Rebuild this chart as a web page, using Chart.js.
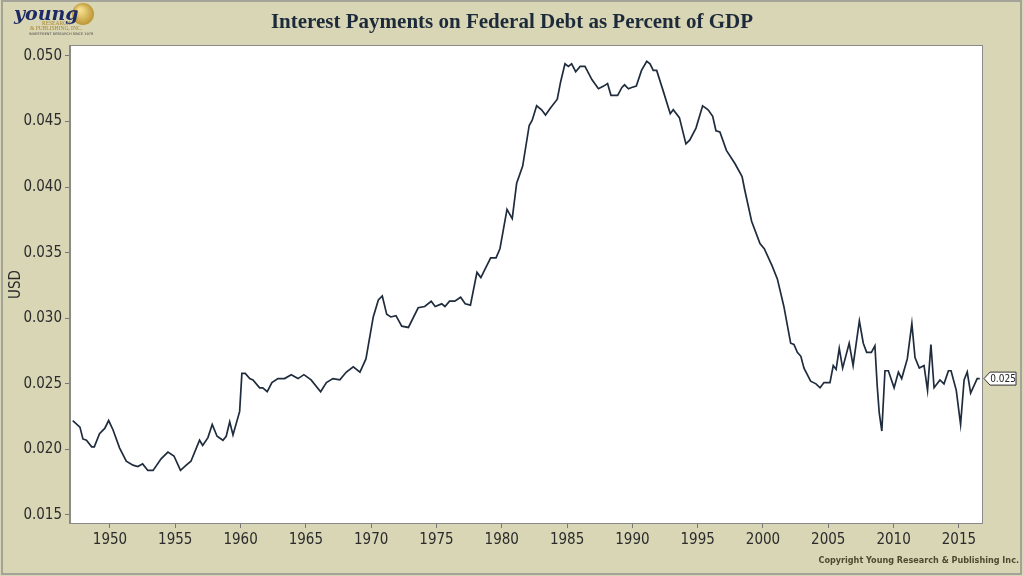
<!DOCTYPE html>
<html>
<head>
<meta charset="utf-8">
<script src="https://cdn.jsdelivr.net/npm/chart.js@4"></script>
<style>
  html, body { margin: 0; padding: 0; background: #fff; }
</style>
</head>
<body>
<canvas id="myChart" width="1024" height="576"></canvas>
<script>
// interest payments on federal debt as a share of GDP
const years = [
  1947.15, 1947.7, 1947.93, 1948.2, 1948.6, 1948.8, 1949.2, 1949.6, 1949.9, 1950.23,
  1950.74, 1951.25, 1951.76, 1952.14, 1952.5, 1952.9, 1953.3, 1953.93, 1954.44, 1954.9,
  1955.4, 1955.84, 1956.2, 1956.86, 1957.1, 1957.5, 1957.83, 1958.2, 1958.65, 1958.9,
  1959.17, 1959.42, 1959.93, 1960.1, 1960.36, 1960.7, 1960.95, 1961.46, 1961.7, 1962.04,
  1962.4, 1962.86, 1963.37, 1963.88, 1964.4, 1964.85, 1965.4, 1966.13, 1966.57, 1967.07,
  1967.6, 1968.1, 1968.63, 1969.14, 1969.6, 1970.16, 1970.55, 1970.85, 1971.19, 1971.5,
  1971.9, 1972.34, 1972.85, 1973.6, 1974.1, 1974.6, 1974.9, 1975.4, 1975.65, 1976.0,
  1976.4, 1976.85, 1977.2, 1977.6, 1978.1, 1978.4, 1978.7, 1979.15, 1979.56, 1979.86,
  1980.4, 1980.8, 1981.14, 1981.6, 1982.1, 1982.33, 1982.67, 1983.05, 1983.35, 1983.7,
  1984.25, 1984.5, 1984.84, 1985.1, 1985.35, 1985.66, 1986.0, 1986.37, 1986.9, 1987.4,
  1987.8, 1988.1, 1988.36, 1988.87, 1989.2, 1989.4, 1989.7, 1989.94, 1990.3, 1990.7,
  1991.1, 1991.35, 1991.6, 1991.86, 1992.37, 1992.9, 1993.13, 1993.6, 1994.1, 1994.4,
  1994.87, 1995.38, 1995.8, 1996.15, 1996.4, 1996.7, 1997.2, 1997.85, 1998.4, 1998.6,
  1999.13, 1999.77, 2000.1, 2000.7, 2001.1, 2001.6, 2002.12, 2002.37, 2002.63, 2002.9,
  2003.14, 2003.65, 2004.06, 2004.37, 2004.67, 2005.13, 2005.38, 2005.6, 2005.84, 2006.1,
  2006.6, 2006.9, 2007.38, 2007.68, 2007.94, 2008.3, 2008.57, 2008.75, 2008.9, 2009.1,
  2009.34, 2009.6, 2010.04, 2010.37, 2010.62, 2011.05, 2011.4, 2011.64, 2011.97, 2012.33,
  2012.6, 2012.86, 2013.1, 2013.55, 2013.86, 2014.2, 2014.4, 2014.8, 2015.13, 2015.4,
  2015.64, 2015.9, 2016.4, 2016.6
];
const interest = [
  0.0222, 0.0217, 0.0208, 0.0207, 0.0202, 0.0202, 0.0212, 0.0216, 0.0222, 0.0215,
  0.0201, 0.0191, 0.0188, 0.0187, 0.0189, 0.0184, 0.0184, 0.0193, 0.0198, 0.0195,
  0.0184, 0.0188, 0.0191, 0.0207, 0.0203, 0.0209, 0.0219, 0.0210, 0.0207, 0.0210,
  0.0221, 0.0211, 0.0229, 0.0258, 0.0258, 0.0254, 0.0253, 0.0247, 0.0247, 0.0244,
  0.0251, 0.0254, 0.0254, 0.0257, 0.0254, 0.0257, 0.0253, 0.0244, 0.0251, 0.0254,
  0.0253, 0.0259, 0.0263, 0.0259, 0.0269, 0.0301, 0.0314, 0.0317, 0.0303, 0.0301,
  0.0302, 0.0294, 0.0293, 0.0308, 0.0309, 0.0313, 0.0309, 0.0311, 0.0309, 0.0313,
  0.0313, 0.0316, 0.0311, 0.0310, 0.0335, 0.0331, 0.0337, 0.0346, 0.0346, 0.0353,
  0.0383, 0.0376, 0.0403, 0.0416, 0.0447, 0.0451, 0.0462, 0.0459, 0.0455, 0.0460,
  0.0467, 0.0480, 0.0494, 0.0492, 0.0494, 0.0488, 0.0492, 0.0492, 0.0482, 0.0475,
  0.0477, 0.0479, 0.0470, 0.0470, 0.0476, 0.0478, 0.0475, 0.0476, 0.0477, 0.0489,
  0.0496, 0.0494, 0.0489, 0.0489, 0.0473, 0.0456, 0.0459, 0.0453, 0.0433, 0.0436,
  0.0445, 0.0462, 0.0459, 0.0454, 0.0443, 0.0442, 0.0428, 0.0418, 0.0408, 0.0398,
  0.0374, 0.0357, 0.0353, 0.0340, 0.0330, 0.0309, 0.0281, 0.0280, 0.0274, 0.0271,
  0.0262, 0.0252, 0.0250, 0.0247, 0.0251, 0.0251, 0.0264, 0.0261, 0.0277, 0.0262,
  0.0281, 0.0264, 0.0298, 0.0281, 0.0274, 0.0274, 0.0279, 0.0248, 0.0228, 0.0214,
  0.0260, 0.0260, 0.0247, 0.0259, 0.0254, 0.0269, 0.0296, 0.0270, 0.0262, 0.0264,
  0.0245, 0.0280, 0.0247, 0.0253, 0.0250, 0.0260, 0.0260, 0.0245, 0.0219, 0.0253,
  0.0259, 0.0243, 0.0254, 0.0254
];
const xTicks = [1950, 1955, 1960, 1965, 1970, 1975, 1980, 1985, 1990, 1995, 2000, 2005, 2010, 2015];
const yTicks = [0.015, 0.020, 0.025, 0.030, 0.035, 0.040, 0.045, 0.050];

const titleText = "Interest Payments on Federal Debt as Percent of GDP";
const copyText = "Copyright Young Research & Publishing Inc.";

const OLIVE = "#d9d6b6";
const NAVY = "#1f2c3d";
const TICKFONT = '"DejaVu Sans Condensed", "Liberation Sans", sans-serif';

// paint the olive page and the white plot box
const backdrop = {
  id: "backdrop",
  beforeDraw(chart) {
    const ctx = chart.ctx;
    const a = chart.chartArea;
    ctx.save();
    ctx.fillStyle = OLIVE;
    ctx.fillRect(0, 0, chart.width, chart.height);
    ctx.fillStyle = "#ffffff";
    ctx.fillRect(a.left, a.top, a.right - a.left, a.bottom - a.top);
    ctx.restore();
  }
};

// title, logo, frame, copyright and the last value flag
const extras = {
  id: "extras",
  afterDraw(chart) {
    const ctx = chart.ctx;
    const a = chart.chartArea;
    ctx.save();

    // plot border
    ctx.strokeStyle = "#8a8a8a";
    ctx.lineWidth = 1;
    ctx.strokeRect(a.left - 0.5, a.top - 0.5, a.right - a.left + 1, a.bottom - a.top + 1);

    // outer frame
    ctx.strokeStyle = "#a3a39a";
    ctx.lineWidth = 2;
    ctx.strokeRect(2, 1, 1019, 573);

    // title
    ctx.fillStyle = "#1c2a3a";
    ctx.font = 'bold 21px "Liberation Serif", serif';
    ctx.textAlign = "center";
    ctx.textBaseline = "middle";
    ctx.fillText(titleText, 512, 23);

    // logo
    const g = ctx.createRadialGradient(80, 10, 2, 83, 14, 12);
    g.addColorStop(0, "#f3dc8a");
    g.addColorStop(1, "#b8902e");
    ctx.fillStyle = g;
    ctx.beginPath();
    ctx.arc(83, 14, 11, 0, Math.PI * 2);
    ctx.fill();
    ctx.fillStyle = "#1d2a63";
    ctx.font = 'italic bold 19px "DejaVu Serif", serif';
    ctx.textAlign = "left";
    ctx.textBaseline = "alphabetic";
    ctx.fillText("young", 14, 20);
    ctx.fillStyle = "#a8852e";
    ctx.font = '5.5px "Liberation Serif", serif';
    ctx.fillText("RESEARCH", 42, 25);
    ctx.fillText("& PUBLISHING, INC.", 30, 30);
    ctx.fillStyle = "#444";
    ctx.font = '3.5px "DejaVu Sans", sans-serif';
    ctx.fillText("INVESTMENT RESEARCH SINCE 1978", 29, 34.5);

    // copyright
    ctx.fillStyle = "#4c4a30";
    ctx.font = 'bold 9px "DejaVu Sans Condensed", "Liberation Sans", sans-serif';
    ctx.textAlign = "right";
    ctx.textBaseline = "middle";
    ctx.fillText(copyText, 1019, 561);

    // last value flag
    const last = interest.length - 1;
    const yp = chart.scales.y.getPixelForValue(interest[last]);
    const tip = a.right + 2;
    ctx.fillStyle = "#ffffff";
    ctx.strokeStyle = "#333";
    ctx.lineWidth = 1;
    ctx.beginPath();
    ctx.moveTo(tip, yp);
    ctx.lineTo(tip + 6, yp - 6.5);
    ctx.lineTo(1016, yp - 6.5);
    ctx.lineTo(1016, yp + 6.5);
    ctx.lineTo(tip + 6, yp + 6.5);
    ctx.closePath();
    ctx.fill();
    ctx.stroke();
    ctx.fillStyle = "#222";
    ctx.font = '10px "DejaVu Sans Condensed", "Liberation Sans", sans-serif';
    ctx.textAlign = "center";
    ctx.fillText(interest[last].toFixed(3), (tip + 6 + 1016) / 2, yp + 0.5);

    ctx.restore();
  }
};

const points = years.map((yr, i) => ({ x: yr, y: interest[i] }));

const config = {
  type: "line",
  data: {
    datasets: [{
      label: "Interest payments",
      data: points,
      borderColor: NAVY,
      borderWidth: 1.7,
      pointRadius: 0,
      fill: false,
      tension: 0
    }]
  },
  options: {
    responsive: false,
    animation: false,
    layout: { padding: { left: 0, top: 46, right: 42, bottom: 23 } },
    plugins: {
      legend: { display: false },
      tooltip: { enabled: false },
      title: { display: false }
    },
    scales: {
      x: {
        type: "linear",
        min: 1946.94,
        max: 2016.77,
        afterBuildTicks(scale) { scale.ticks = xTicks.map(v => ({ value: v })); },
        afterFit(scale) { scale.height = 30; },
        ticks: {
          color: "#2b2b2b",
          font: { family: TICKFONT, size: 15 },
          padding: 3,
          maxRotation: 0,
          autoSkip: false,
          callback: v => String(v)
        },
        grid: { drawOnChartArea: false, drawTicks: true, tickLength: 5, color: "#777" },
        border: { display: true, color: "#8a8a8a" }
      },
      y: {
        min: 0.01439,
        max: 0.05076,
        afterBuildTicks(scale) { scale.ticks = yTicks.map(v => ({ value: v })); },
        afterFit(scale) { scale.width = 70; },
        ticks: {
          color: "#2b2b2b",
          font: { family: TICKFONT, size: 15 },
          padding: 3,
          autoSkip: false,
          callback: v => v.toFixed(3)
        },
        grid: { drawOnChartArea: false, drawTicks: true, tickLength: 5, color: "#777" },
        border: { display: true, color: "#8a8a8a" },
        title: {
          display: true,
          text: "USD",
          color: "#2b2b2b",
          font: { family: TICKFONT, size: 15 },
          padding: { top: 7, bottom: 0 }
        }
      }
    }
  },
  plugins: [backdrop, extras]
};

const ctx = document.getElementById("myChart").getContext("2d");
const myChart = new Chart(ctx, config);
</script>
</body>
</html>
